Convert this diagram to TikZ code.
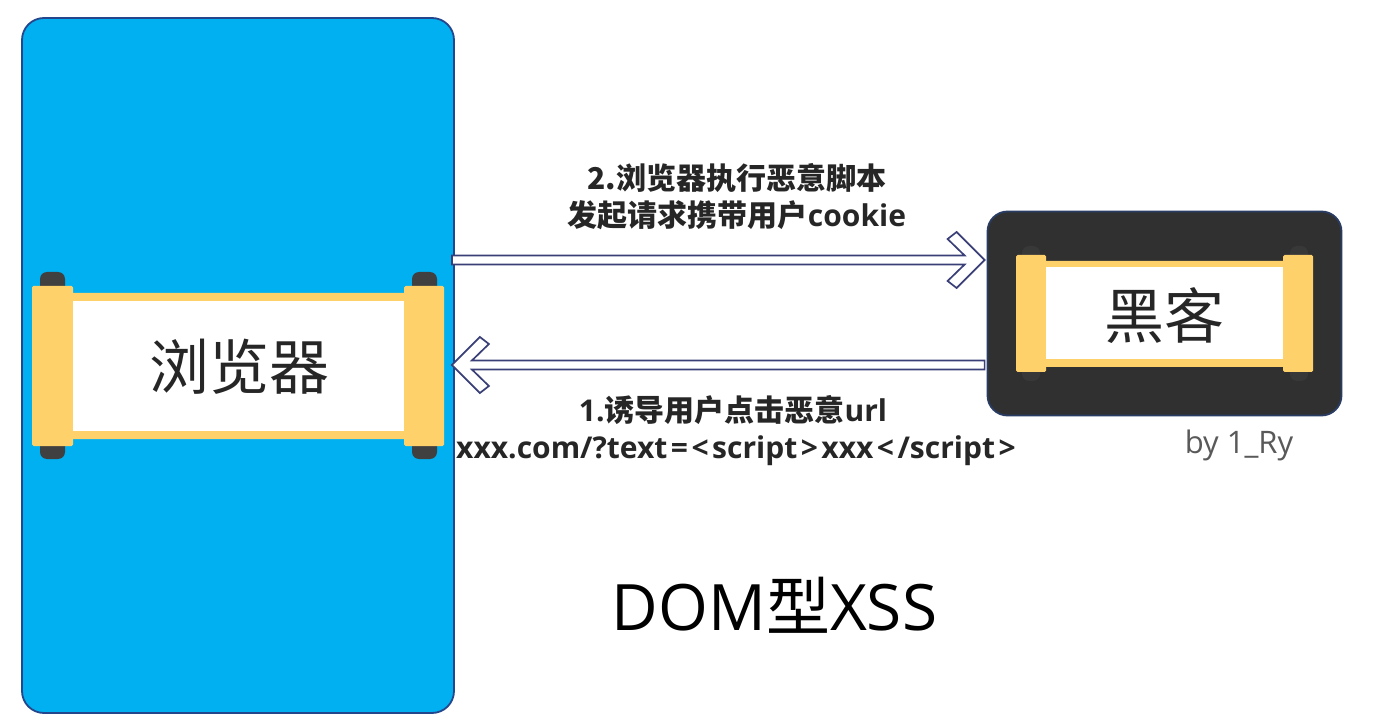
\documentclass[tikz,border=0pt]{standalone}
\usepackage{fontspec}
\setmainfont{Open Sans}
\newfontfamily\cjk{Noto Sans CJK SC}
\usetikzlibrary{calc}
\definecolor{skyfill}{HTML}{00B0F0}
\definecolor{frameblue}{HTML}{24468C}
\definecolor{scrollgold}{HTML}{FFD16B}
\definecolor{hackerdark}{HTML}{303030}
\definecolor{knobdark}{HTML}{404040}
\definecolor{knobfaint}{HTML}{383838}
\definecolor{textdark}{HTML}{262626}
\definecolor{arrowline}{HTML}{3A3F78}
\tikzset{
  panel/.style={rectangle,draw=frameblue,line width=1.8pt,inner sep=0pt,rounded corners=22pt},
  gold/.style={rectangle,fill=scrollgold,inner sep=0pt,rounded corners=1.5pt},
  sheet/.style={rectangle,fill=white,inner sep=0pt},
  knob/.style={fill=#1,rounded corners=7pt},
  flowarrow/.style={draw=arrowline,fill=white,line width=1.7pt,line join=miter},
  label/.style={text=textdark,align=center,inner sep=0pt,font=\bfseries\fontsize{30}{37}\selectfont}
}
\newcommand{\blockarrow}[3]{%
  \draw[flowarrow] ($(#1)+(0,-4.5)$) -- ($(#2)+(-20*#3,-4.5)$) -- ($(#2)+(-37*#3,-21)$)
    -- ($(#2)+(-28*#3,-28)$) -- (#2) -- ($(#2)+(-28*#3,28)$) -- ($(#2)+(-37*#3,21)$)
    -- ($(#2)+(-20*#3,4.5)$) -- ($(#1)+(0,4.5)$) -- cycle;}
\newcommand{\gp}{\kern3.5pt}
\begin{document}
\begin{tikzpicture}[x=1pt,y=-1pt]
\useasboundingbox[fill=white] (0,0) rectangle (1377,727);
% browser panel
\node[panel,fill=skyfill,minimum width=432pt,minimum height=695pt] (browser) at (238,365.5) {};
\foreach \kx in {52.5,424.5}{
  \fill[knob=knobdark] (\kx-12.5,296) rectangle (\kx+12.5,272);
  \fill[knob=knobdark] (\kx-12.5,436) rectangle (\kx+12.5,459);
}
\node[gold,minimum width=340pt,minimum height=146pt] (bbar) at (238,366) {};
\node[gold,minimum width=41pt,minimum height=160pt] (brollL) at (52.5,366) {};
\node[gold,minimum width=40pt,minimum height=160pt] (brollR) at (424,366) {};
\node[sheet,minimum width=331pt,minimum height=130pt] (bsheet) at (238.5,366) {};
\node[text=textdark,inner sep=0pt,font=\cjk\fontsize{60}{60}\selectfont] (btext) at (239,367) {浏览器};
% hacker panel
\node[panel,draw=frameblue!55!hackerdark,fill=hackerdark,rounded corners=20pt,minimum width=354pt,minimum height=204pt] (hacker) at (1164.5,313.5) {};
\foreach \kx in {1031,1299}{
  \fill[knob=knobfaint] (\kx-9,262) rectangle (\kx+9,246);
  \fill[knob=knobfaint] (\kx-9,365) rectangle (\kx+9,381);
}
\node[gold,minimum width=250pt,minimum height=106pt] (hbar) at (1164.5,314) {};
\node[gold,minimum width=30pt,minimum height=117pt] (hrollL) at (1031,313.5) {};
\node[gold,minimum width=30pt,minimum height=117pt] (hrollR) at (1298,313.5) {};
\node[sheet,minimum width=237pt,minimum height=92pt] (hsheet) at (1164.5,313) {};
\node[text=textdark,inner sep=0pt,font=\cjk\fontsize{60}{60}\selectfont] (htext) at (1164,316) {黑客};
% connectors
\coordinate (upfrom) at ([xshift=-3pt]browser.east |- 0,260);
\coordinate (upto) at ([xshift=-2pt]hacker.west |- 0,260);
\coordinate (downfrom) at ([xshift=-2pt]hacker.west |- 0,365);
\coordinate (downto) at ([xshift=-3pt]browser.east |- 0,365);
\blockarrow{upfrom}{upto}{1}
\blockarrow{downfrom}{downto}{-1}
% labels
\node[label] (toplabel) at (737,196.5) {{\cjk\bfseries 2.浏览器执行恶意脚本}\\{\cjk\bfseries 发起请求携带用户}cookie};
\node[label] (lowlabel) at (736,431) {\hspace*{-6pt}1.{\cjk\bfseries 诱导用户点击恶意}url\\xxx.com/?text\gp=\gp<\gp script\gp>\gp xxx\gp<\gp/script\gp>};
\node[text=black!65,inner sep=0pt,font=\fontsize{31}{36}\selectfont] (byline) at (1239,445) {by 1\_Ry};
\node[text=black,inner sep=0pt,font=\fontsize{64}{70}\selectfont] (title) at (774.5,605) {DOM{\cjk 型}XSS};
\end{tikzpicture}
\end{document}
